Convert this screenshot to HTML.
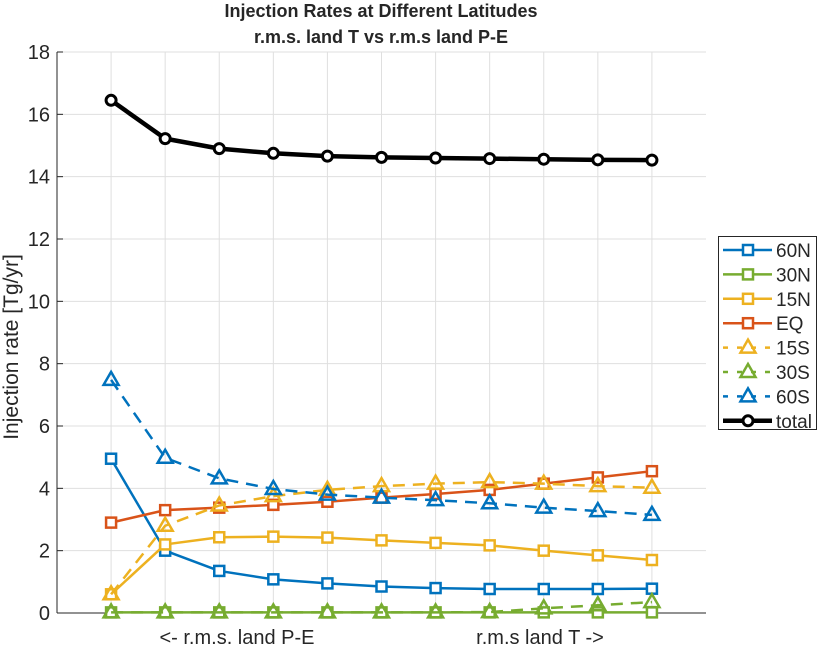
<!DOCTYPE html>
<html><head><meta charset="utf-8"><style>
body{margin:0;background:#fff;}
svg text{font-family:"Liberation Sans",Arial,sans-serif;fill:#262626;}
</style></head><body>
<svg id="chart" width="818" height="646" xmlns="http://www.w3.org/2000/svg">
<text x="381" y="17" text-anchor="middle" font-size="18" font-weight="bold" fill="#000">Injection Rates at Different Latitudes</text>
<text x="381" y="43" text-anchor="middle" font-size="18" font-weight="bold" fill="#000">r.m.s. land T vs r.m.s land P-E</text>
<g id="grid"></g>
<g id="axes"></g>
<g id="series"></g>
<text transform="translate(18,347) rotate(-90)" text-anchor="middle" font-size="21">Injection rate [Tg/yr]</text>
<text x="237" y="644" text-anchor="middle" font-size="20">&lt;- r.m.s. land P-E</text>
<text x="540" y="644" text-anchor="middle" font-size="20">r.m.s land T -&gt;</text>
<g id="legend"></g>
</svg>
<script>
const xs = [1,2,3,4,5,6,7,8,9,10,11];
const yTicks = [0,2,4,6,8,10,12,14,16,18];
const s60N = [4.95,2.0,1.35,1.08,0.95,0.85,0.8,0.77,0.77,0.77,0.78];
const s30N = [0.02,0.02,0.02,0.02,0.02,0.02,0.02,0.02,0.02,0.02,0.02];
const s15N = [0.6,2.2,2.43,2.45,2.42,2.33,2.25,2.17,2.0,1.85,1.7];
const sEQ = [2.9,3.3,3.38,3.47,3.57,3.7,3.82,3.95,4.15,4.35,4.55];
const s15S = [0.6,2.8,3.45,3.75,3.95,4.07,4.15,4.2,4.15,4.07,4.02];
const s30S = [0.02,0.02,0.02,0.02,0.02,0.02,0.02,0.03,0.15,0.25,0.35];
const s60S = [7.48,4.98,4.32,3.98,3.8,3.7,3.62,3.52,3.38,3.27,3.15];
const sTotal = [16.45,15.22,14.9,14.75,14.66,14.62,14.6,14.58,14.56,14.54,14.53];
const seriesNames = ["60N","30N","15N","EQ","15S","30S","60S","total"];

const L=57,R=706,T=52,B=613;
const xS=v=>L+(v/12)*(R-L);
const yS=v=>B-(v/18)*(B-T);
const NS="http://www.w3.org/2000/svg";
function mk(tag,attrs,parent){const e=document.createElementNS(NS,tag);for(const k in attrs)e.setAttribute(k,attrs[k]);parent.appendChild(e);return e;}
const grid=document.getElementById('grid'),axes=document.getElementById('axes'),ser=document.getElementById('series'),leg=document.getElementById('legend');
xs.forEach(v=>{const l=mk('line',{x1:xS(v),x2:xS(v),y1:T,y2:B,stroke:'#dfdfdf','stroke-width':1},grid);

});
yTicks.forEach(v=>{const l=mk('line',{x1:L,x2:R,y1:yS(v),y2:yS(v),stroke:'#dfdfdf','stroke-width':1},grid);


const t=mk('line',{x1:L,x2:L+6,y1:yS(v),y2:yS(v),stroke:'#262626'},axes);


const tx=mk('text',{x:L-7,y:yS(v)+7,'text-anchor':'end','font-size':20},axes);tx.textContent=v;

});
const ya=mk('line',{x1:L,x2:L,y1:T,y2:B,stroke:'#262626'},axes);


const xa=mk('line',{x1:L,x2:R,y1:B,y2:B,stroke:'#262626'},axes);



const styles=[
 {d:s60N,c:'#0072BD',dash:false,m:'sq'},
 {d:s30N,c:'#77AC30',dash:false,m:'sq'},
 {d:s15N,c:'#EDB120',dash:false,m:'sq'},
 {d:sEQ,c:'#D95319',dash:false,m:'sq'},
 {d:s15S,c:'#EDB120',dash:true,m:'tri'},
 {d:s30S,c:'#77AC30',dash:true,m:'tri'},
 {d:s60S,c:'#0072BD',dash:true,m:'tri'},
 {d:sTotal,c:'#000',dash:false,m:'circ'}];
function marker(m,x,y,c,g){
 let e;
 if(m==='sq')e=mk('rect',{x:x-5,y:y-5,width:10,height:10,fill:'#fff',stroke:c,'stroke-width':2.5},g);
 else if(m==='tri')e=mk('polygon',{points:`${x},${y-8} ${x-7.5},${y+5} ${x+7.5},${y+5}`,fill:'none',stroke:c,'stroke-width':2.5},g);
 else e=mk('circle',{cx:x,cy:y,r:5,fill:'#fff',stroke:c,'stroke-width':3},g);
 
 
}
styles.forEach((s,i)=>{
 const g=mk('g',{},ser);
 
 
 const pts=s.d.map((v,j)=>xS(xs[j])+','+yS(v)).join(' ');
 const pl=mk('polyline',{points:pts,fill:'none',stroke:s.c,'stroke-width':s.m==='circ'?4.5:2.5,'stroke-dasharray':s.dash?'12,8':'none','stroke-linejoin':'round'},g);
 
 
 s.d.forEach((v,j)=>marker(s.m,xS(xs[j]),yS(v),s.c,g));
});
const box=mk('rect',{x:718.5,y:236.5,width:98,height:193,fill:'#fff',stroke:'#262626','stroke-width':1},leg);


styles.forEach((s,i)=>{
 const y=250+i*24.4;
 const g=mk('g',{},leg);
 
 
 mk('line',{x1:723,x2:772,y1:y,y2:y,stroke:s.c,'stroke-width':s.m==='circ'?4.5:2.5,'stroke-dasharray':s.dash?'5,9':'none'},g);
 marker(s.m,748,y,s.c,g);
 const t=mk('text',{x:776,y:y+7,'font-size':19},g);t.textContent=seriesNames[i];
 t.setAttribute('fill','#000');
});
</script>
</body></html>
